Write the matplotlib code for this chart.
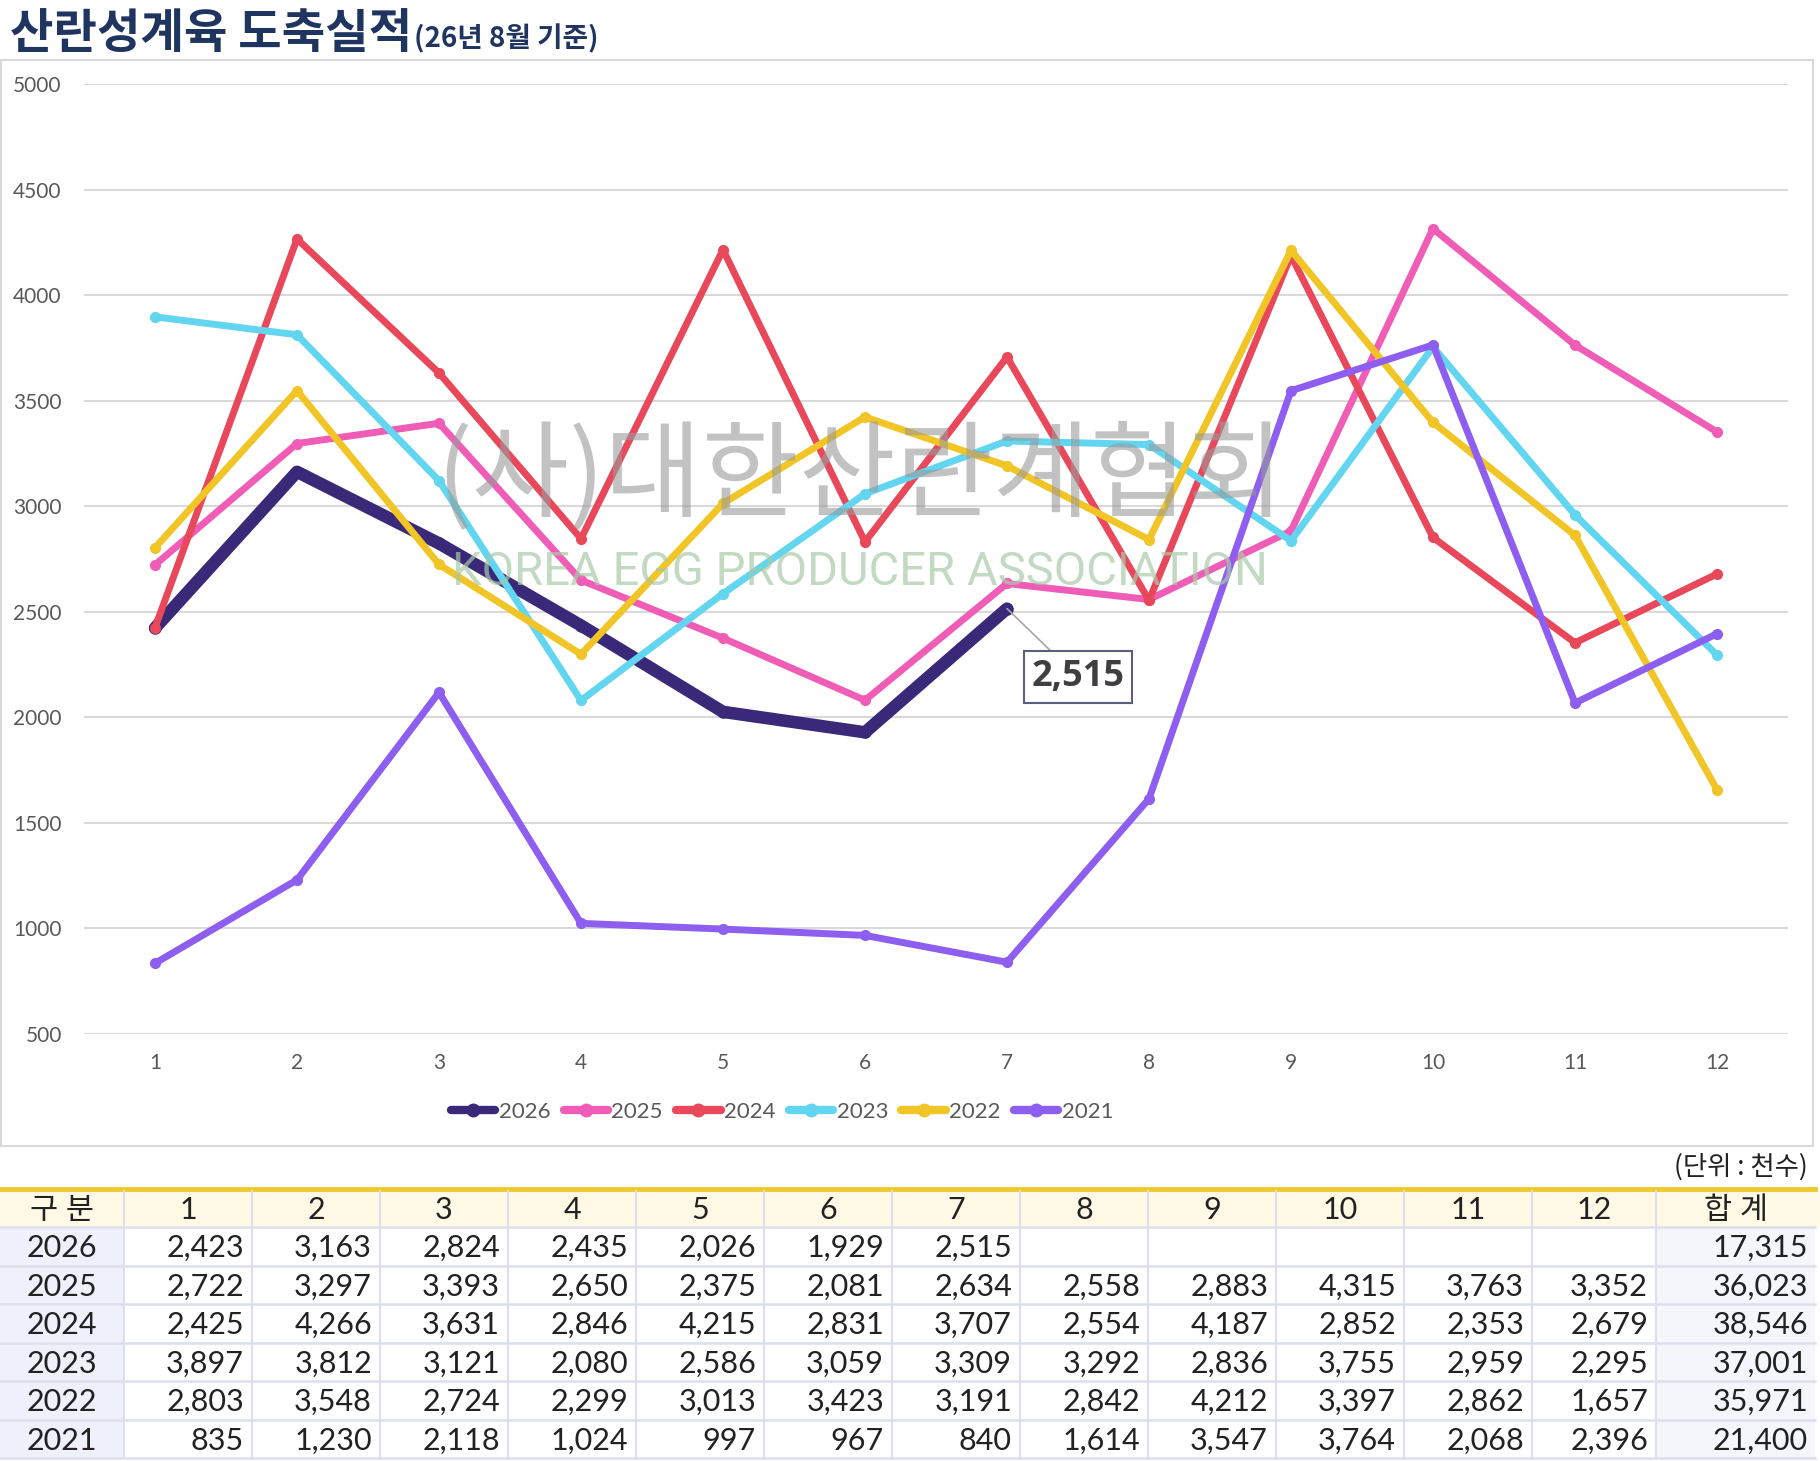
import matplotlib
matplotlib.use('Agg')
import matplotlib.pyplot as plt
from matplotlib.patches import Rectangle
from matplotlib.lines import Line2D
import numpy as np

plt.rcParams['font.family'] = ['Noto Sans CJK KR', 'DejaVu Sans']

months = list(range(1, 13))
years = ['2026', '2025', '2024', '2023', '2022', '2021']
d2026 = [2423, 3163, 2824, 2435, 2026, 1929, 2515]
d2025 = [2722, 3297, 3393, 2650, 2375, 2081, 2634, 2558, 2883, 4315, 3763, 3352]
d2024 = [2425, 4266, 3631, 2846, 4215, 2831, 3707, 2554, 4187, 2852, 2353, 2679]
d2023 = [3897, 3812, 3121, 2080, 2586, 3059, 3309, 3292, 2836, 3755, 2959, 2295]
d2022 = [2803, 3548, 2724, 2299, 3013, 3423, 3191, 2842, 4212, 3397, 2862, 1657]
d2021 = [835, 1230, 2118, 1024, 997, 967, 840, 1614, 3547, 3764, 2068, 2396]
totals = ['17,315', '36,023', '38,546', '37,001', '35,971', '21,400']
series = [d2026, d2025, d2024, d2023, d2022, d2021]
colors = ['#3a2878', '#f05db6', '#e8485a', '#62d5f0', '#f2c526', '#8d5ef0']
widths = [9, 5, 5, 5, 5, 5]

W, H = 1820, 1461
fig = plt.figure(figsize=(W / 100, H / 100), dpi=100)

# overlay axes in pixel coords
ov = fig.add_axes([0, 0, 1, 1], zorder=0)
ov.set_xlim(0, W)
ov.set_ylim(H, 0)
ov.axis('off')

def fx(px):
    return px / W

def fy(py):
    return 1 - py / H

# chart border
ov.add_patch(Rectangle((1, 60), 1812, 1086, fill=False, ec='#d9d9d9', lw=1.5))

# title
t1 = ov.text(10, 48, '산란성계육 도축실적', fontsize=34, fontweight='black', color='#1f3560',
             va='baseline')
fig.canvas.draw()
bb = t1.get_window_extent()
ov.text(bb.x1 + 2, 47, '(26년 8월 기준)', fontsize=20, fontweight='black', color='#1f3560',
        va='baseline')

ax = fig.add_axes([fx(84), fy(1034), fx(1788) - fx(84), (1034 - 84) / H], zorder=2)
ax.patch.set_alpha(0)
ax.set_xlim(0.5, 12.5)
ax.set_ylim(500, 5000)
ax.set_yticks(np.arange(500, 5001, 500))
ax.set_xticks(months)
ax.grid(axis='y', color='#d9d9d9', lw=1.5)
ax.set_axisbelow(True)
for s in ax.spines.values():
    s.set_visible(False)
ax.tick_params(length=0, labelsize=15, labelcolor='#595959')
ax.tick_params(axis='x', pad=14)
ax.tick_params(axis='y', pad=16)
for lab in ax.get_yticklabels() + ax.get_xticklabels():
    lab.set_family(['Lato', 'DejaVu Sans'])

handles = []
for yr, vals, c, w in zip(years, series, colors, widths):
    x = months[:len(vals)]
    ax.plot(x, vals, color=c, lw=w, marker='o', ms=8 if w > 5 else 7,
            solid_capstyle='round', clip_on=False)
    handles.append(Line2D([], [], color=c, lw=6, marker='o', ms=9, solid_capstyle='round'))

# data label for last 2026 point
ax.annotate(f'{d2026[-1]:,}', xy=(7, d2026[-1]), xytext=(7.5, 2190),
            fontsize=26, fontweight='bold', color='#3f3f3f', ha='center', va='center',
            family=['Open Sans', 'DejaVu Sans'],
            bbox=dict(boxstyle='square,pad=0.22', fc='white', ec='#5d5d7e', lw=1.5),
            arrowprops=dict(arrowstyle='-', color='#a6a6a6', lw=1.2, shrinkA=0, shrinkB=0))

fig.legend(handles=handles, labels=years, loc='center', ncol=6,
           bbox_to_anchor=(fx(782), fy(1112)), frameon=False,
           handlelength=2.0, handletextpad=0.15, columnspacing=0.6,
           labelcolor='#595959', prop={'family': ['Lato', 'DejaVu Sans'], 'size': 16})

# watermark on top
wm = fig.add_axes([0, 0, 1, 1], zorder=5)
wm.set_xlim(0, W)
wm.set_ylim(H, 0)
wm.axis('off')
wm.text(860, 478, '(사)대한산란계협회', fontsize=76, color='#9a9a9a', alpha=0.6,
        ha='center', va='center', fontweight='medium')
wm.text(860, 572, 'KOREA EGG PRODUCER ASSOCIATION', fontsize=34, color='#a9c9a9',
        alpha=0.7, ha='center', va='center', family=['Roboto', 'DejaVu Sans'])

# table
ov.text(1808, 1167, '(단위 : 천수)', fontsize=19, color='#222222', ha='right', va='center')
col_edges = [0, 124] + [124 + 128 * (i + 1) for i in range(11)] + [1656, 1815]
top = 1191
hh = 36
rh = 38.5
ov.add_patch(Rectangle((0, top), W, hh, fc='#fff9e6', ec='none'))
ov.plot([0, 1815], [1189, 1189], color='#efc92e', lw=3.5)
n_rows = len(years)
table_bottom = top + hh + rh * n_rows
ov.add_patch(Rectangle((0, top + hh), 124, rh * n_rows, fc='#eef1fb', ec='none'))
ov.add_patch(Rectangle((1656, top + hh), 159, rh * n_rows, fc='#f5f6fb', ec='none'))
for xe in col_edges[1:-1]:
    ov.plot([xe, xe], [top, table_bottom], color='#dde0ec', lw=1.5)
for i in range(n_rows + 1):
    yy = top + hh + rh * i
    ov.plot([0, 1815], [yy, yy], color='#dde0ec', lw=1.8)

tfont = ['Lato', 'Noto Sans CJK KR', 'DejaVu Sans']
header = ['구 분'] + [str(m) for m in months] + ['합 계']
for j, h in enumerate(header):
    cx = (col_edges[j] + col_edges[j + 1]) / 2
    ov.text(cx, top + hh / 2 + 1, h, fontsize=22, ha='center', va='center', color='#222222',
            family=tfont)
for i, (yr, vals, tot) in enumerate(zip(years, series, totals)):
    cy = top + hh + rh * i + rh / 2 + 2
    ov.text(62, cy, yr, fontsize=22, ha='center', va='center', color='#222222', family=tfont)
    for j, v in enumerate(vals):
        ov.text(col_edges[j + 2] - 8, cy, f'{v:,}', fontsize=22, ha='right', va='center',
                color='#222222', family=tfont)
    ov.text(1808, cy, tot, fontsize=22, ha='right', va='center', color='#222222', family=tfont)

fig.savefig('out.png', dpi=100)
